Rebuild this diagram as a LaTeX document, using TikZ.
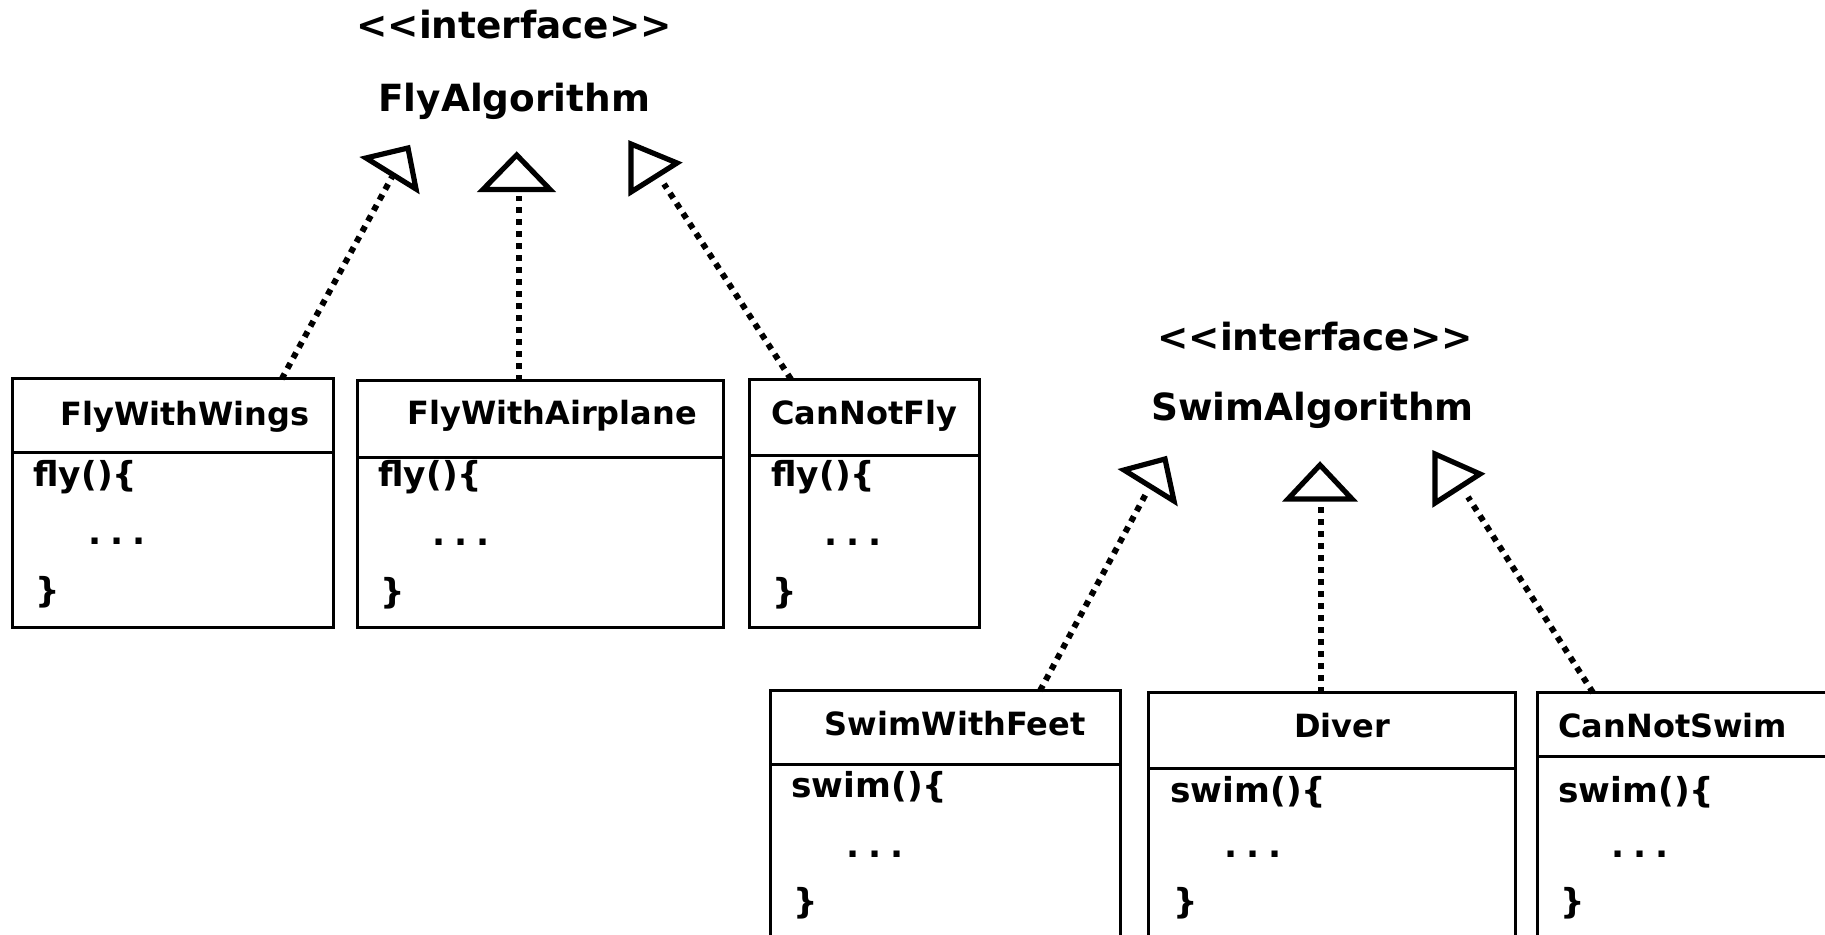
\documentclass[tikz,border=0pt]{standalone}
\usepackage{fontspec}
\setmainfont{DejaVu Sans}
\newcommand{\mydots}{.\hspace{0.26em}.\hspace{0.26em}.}
\begin{document}
\begin{tikzpicture}[x=0.5pt,y=-0.5pt,
  cls/.style={draw, line width=1.5pt, anchor=north west, inner sep=0pt, outer sep=0pt},
  divline/.style={line width=1.5pt},
  hd/.style={anchor=base west, inner sep=0pt, font=\fontsize{18.7}{23}\selectfont\bfseries},
  ttl/.style={anchor=base west, inner sep=0pt, font=\fontsize{16}{19}\selectfont\bfseries},
  tx/.style={anchor=base west, inner sep=0pt, font=\fontsize{17.2}{20}\selectfont\bfseries},
  real/.style={line width=3pt, dash pattern=on 3pt off 3pt},
  tri/.style={line width=2.6pt, line join=miter, fill=white}]
\useasboundingbox (0,0) rectangle (1825,935);
\clip (0,0) rectangle (1825,935);

% ---------- FlyAlgorithm interface ----------
\node[hd] (fi) at (356,39) {<{}<interface>{}>};
\node[hd] (fa) at (378,112) {FlyAlgorithm};

\coordinate (ft1a) at (366,158); \coordinate (ft1b) at (408,148); \coordinate (ft1c) at (416,189);
\coordinate (ft2a) at (516.7,155); \coordinate (ft2b) at (483,189.5); \coordinate (ft2c) at (550,189.5);
\coordinate (ft3a) at (631,144); \coordinate (ft3b) at (677,163); \coordinate (ft3c) at (631,192);
\draw[tri] (ft1a) -- (ft1b) -- (ft1c) -- cycle;
\draw[tri] (ft2a) -- (ft2b) -- (ft2c) -- cycle;
\draw[tri] (ft3a) -- (ft3b) -- (ft3c) -- cycle;
\coordinate (fe1) at (392,177);
\coordinate (fe2) at (519,196);
\coordinate (fe3) at (664,184);

% FlyWithWings
\node[cls, minimum width=160.4pt, minimum height=124pt] (fww) at (12.7,379) {};
\draw[divline] (fww.west |- 0,452) -- (fww.east |- 0,452);
\node[ttl] (fwwt) at (60,425) {FlyWithWings};
\node[tx] (fwwm) at (33,487) {fly()\{};
\node[tx] (fwwd) at (88,544) {\mydots};
\node[tx] (fwwe) at (35,602) {\}};

% FlyWithAirplane
\node[cls, minimum width=183.05pt, minimum height=123.25pt] (fwa) at (357.7,381) {};
\draw[divline] (fwa.west |- 0,457) -- (fwa.east |- 0,457);
\node[ttl] (fwat) at (407,424) {FlyWithAirplane};
\node[tx] (fwam) at (378,486) {fly()\{};
\node[tx] (fwad) at (432,545) {\mydots};
\node[tx] (fwae) at (380,603) {\}};

% CanNotFly
\node[cls, minimum width=115.35pt, minimum height=123.85pt] (cnf) at (749,379.3) {};
\draw[divline] (cnf.west |- 0,455) -- (cnf.east |- 0,455);
\node[ttl] (cnft) at (771,424) {CanNotFly};
\node[tx] (cnfm) at (771,486) {fly()\{};
\node[tx] (cnfd) at (824,545) {\mydots};
\node[tx] (cnfe) at (772,603) {\}};

\draw[real] (fww.north west -| 281.7,0) -- (fe1);
\draw[real] (fwa.north west -| 519,0) -- (fe2);
\draw[real] (cnf.north west -| 791,0) -- (fe3);

% ---------- SwimAlgorithm interface ----------
\node[hd] (si) at (1157,351) {<{}<interface>{}>};
\node[hd] (sa) at (1151,421) {SwimAlgorithm};

\coordinate (st1a) at (1124,470); \coordinate (st1b) at (1165,459); \coordinate (st1c) at (1174,501);
\coordinate (st2a) at (1320,465); \coordinate (st2b) at (1288,499); \coordinate (st2c) at (1352,499);
\coordinate (st3a) at (1435,454); \coordinate (st3b) at (1480,474); \coordinate (st3c) at (1435,503);
\draw[tri] (st1a) -- (st1b) -- (st1c) -- cycle;
\draw[tri] (st2a) -- (st2b) -- (st2c) -- cycle;
\draw[tri] (st3a) -- (st3b) -- (st3c) -- cycle;
\coordinate (se1) at (1148,490);
\coordinate (se2) at (1321,506);
\coordinate (se3) at (1468,497);

% SwimWithFeet
\node[cls, minimum width=174.9pt, minimum height=129.65pt] (swf) at (770.7,690.7) {};
\draw[divline] (swf.west |- 0,764) -- (swf.east |- 0,764);
\node[ttl] (swft) at (824.5,735) {SwimWithFeet};
\node[tx] (swfm) at (791,797) {swim()\{};
\node[tx] (swfd) at (846,857) {\mydots};
\node[tx] (swfe) at (793,913) {\}};

% Diver
\node[cls, minimum width=183.35pt, minimum height=128.65pt] (dv) at (1148.3,692.7) {};
\draw[divline] (dv.west |- 0,768.3) -- (dv.east |- 0,768.3);
\node[ttl] (dvt) at (1294,737) {Diver};
\node[tx] (dvm) at (1170,802) {swim()\{};
\node[tx] (dvd) at (1224,857) {\mydots};
\node[tx] (dve) at (1173,913) {\}};

% CanNotSwim
\node[cls, minimum width=151.2pt, minimum height=128.65pt] (cns) at (1537.6,692.7) {};
\draw[divline] (cns.west |- 0,756) -- (cns.east |- 0,756);
\node[ttl] (cnst) at (1558,737) {CanNotSwim};
\node[tx] (cnsm) at (1558,802) {swim()\{};
\node[tx] (cnsd) at (1611,857) {\mydots};
\node[tx] (cnse) at (1560,913) {\}};

\draw[real] (swf.north west -| 1040,0) -- (se1);
\draw[real] (dv.north west -| 1321,0) -- (se2);
\draw[real] (cns.north west -| 1593,0) -- (se3);
\end{tikzpicture}
\end{document}
